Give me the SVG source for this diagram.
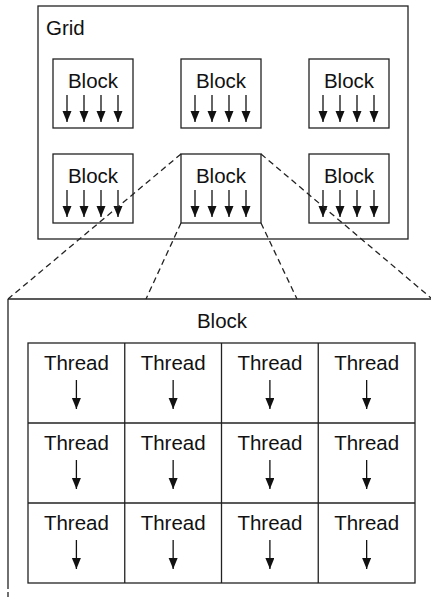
<svg xmlns="http://www.w3.org/2000/svg" width="431" height="598" viewBox="0 0 431 598">
<style>
.box{fill:#fff;stroke:#222;stroke-width:1.3}
.ln{stroke:#222;stroke-width:1.3;fill:none}
.dash{stroke:#222;stroke-width:1.3;fill:none;stroke-dasharray:6 4}
.t{font-family:"Liberation Sans",Arial,sans-serif;font-size:20.5px;fill:#111}
.c{text-anchor:middle}
.arr{stroke:#111;stroke-width:1.3;marker-end:url(#ah)}
</style>
<defs>
<marker id="ah" markerUnits="userSpaceOnUse" markerWidth="11" markerHeight="10" refX="11" refY="4.5" orient="auto">
<path d="M0,0 L11,4.5 L0,9 z" fill="#111"/>
</marker>
<g id="blk">
<rect class="box" x="0" y="0" width="80" height="69"/>
<text class="t c" x="40" y="29">Block</text>
<line class="arr" x1="14" y1="36" x2="14" y2="63"/>
<line class="arr" x1="31" y1="36" x2="31" y2="63"/>
<line class="arr" x1="48" y1="36" x2="48" y2="63"/>
<line class="arr" x1="65" y1="36" x2="65" y2="63"/>
</g>
<g id="thr">
<text class="t c" x="48.4" y="27">Thread</text>
<line class="arr" x1="48.4" y1="37" x2="48.4" y2="66"/>
</g>
</defs>

<g id="grid">
<rect class="box" x="38" y="6" width="370" height="233"/>
<text class="t" x="46" y="35">Grid</text>
</g>
<g id="block-1-1"><use href="#blk" x="53" y="59"/></g>
<g id="block-1-2"><use href="#blk" x="181" y="59"/></g>
<g id="block-1-3"><use href="#blk" x="309" y="59"/></g>
<g id="block-2-1"><use href="#blk" x="53" y="154"/></g>
<g id="block-2-2"><use href="#blk" x="181" y="154"/></g>
<g id="block-2-3"><use href="#blk" x="309" y="154"/></g>

<g id="connectors">
<line class="dash" x1="181" y1="154" x2="8" y2="299"/>
<line class="dash" x1="261" y1="154" x2="431" y2="298"/>
<line class="dash" x1="181" y1="223" x2="146" y2="299"/>
<line class="dash" x1="261" y1="223" x2="297" y2="299"/>
</g>

<g id="block-detail">
<line class="ln" x1="8" y1="299" x2="431" y2="299"/>
<line class="ln" x1="8" y1="299" x2="8" y2="589"/>
<line class="ln" x1="8" y1="592" x2="8" y2="597"/>
<text class="t c" x="222" y="328">Block</text>
<rect class="box" x="28" y="343" width="387" height="240"/>
<line class="ln" x1="124.75" y1="343" x2="124.75" y2="583"/>
<line class="ln" x1="221.5" y1="343" x2="221.5" y2="583"/>
<line class="ln" x1="318.25" y1="343" x2="318.25" y2="583"/>
<line class="ln" x1="28" y1="423" x2="415" y2="423"/>
<line class="ln" x1="28" y1="503" x2="415" y2="503"/>
</g>
<g id="thread-1-1"><use href="#thr" x="28" y="343"/></g>
<g id="thread-1-2"><use href="#thr" x="124.75" y="343"/></g>
<g id="thread-1-3"><use href="#thr" x="221.5" y="343"/></g>
<g id="thread-1-4"><use href="#thr" x="318.25" y="343"/></g>
<g id="thread-2-1"><use href="#thr" x="28" y="423"/></g>
<g id="thread-2-2"><use href="#thr" x="124.75" y="423"/></g>
<g id="thread-2-3"><use href="#thr" x="221.5" y="423"/></g>
<g id="thread-2-4"><use href="#thr" x="318.25" y="423"/></g>
<g id="thread-3-1"><use href="#thr" x="28" y="503"/></g>
<g id="thread-3-2"><use href="#thr" x="124.75" y="503"/></g>
<g id="thread-3-3"><use href="#thr" x="221.5" y="503"/></g>
<g id="thread-3-4"><use href="#thr" x="318.25" y="503"/></g>
</svg>
